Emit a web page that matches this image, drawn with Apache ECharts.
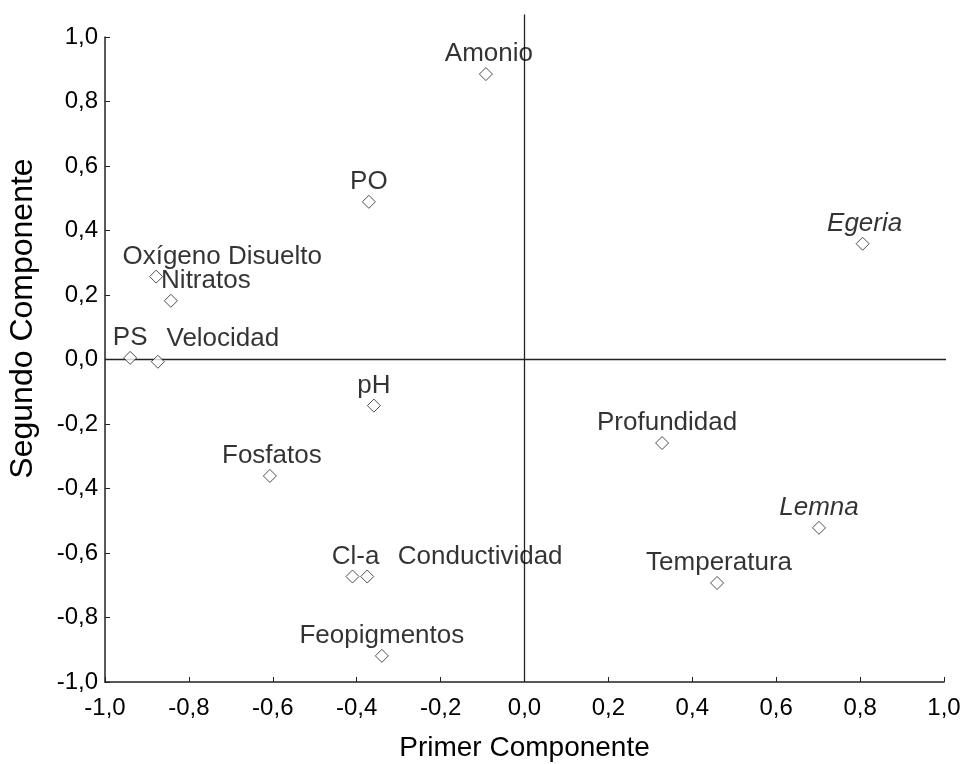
<!DOCTYPE html>
<html>
<head>
<meta charset="UTF-8">
<title>Componentes principales</title>
<script src="https://cdn.jsdelivr.net/npm/echarts@6.0.0/dist/echarts.min.js"></script>
<style type="text/css">
body{margin:0;padding:0;background:#fff;}
#main{width:970px;height:764px;}
</style>
</head>
<body>
<div id="main"></div>
<script type="text/javascript">
// variables y sus cargas en los dos primeros componentes
var variables = ['Amonio', 'PO', 'Egeria', 'Oxígeno Disuelto', 'Nitratos', 'PS', 'Velocidad', 'pH',
  'Profundidad', 'Fosfatos', 'Lemna', 'Temperatura', 'Cl-a', 'Conductividad', 'Feopigmentos'];
var primer = [-0.092, -0.371, 0.806, -0.878, -0.843, -0.940, -0.874, -0.359,
  0.328, -0.607, 0.702, 0.459, -0.410, -0.375, -0.340];
var segundo = [0.885, 0.489, 0.359, 0.257, 0.182, 0.005, -0.007, -0.143,
  -0.259, -0.361, -0.522, -0.693, -0.673, -0.673, -0.919];
var cursiva = ['Egeria', 'Lemna'];
// ejes de referencia en cero
var ejeVertical = [[0, -1], [0, 1.07]];
var ejeHorizontal = [[-1, 0], [1.1, 0]];

// desplazamiento de etiquetas (px)
var desplaza = {
  'Oxígeno Disuelto': [66, 0],
  'Nitratos': [35, 0],
  'Velocidad': [65, -3],
  'Conductividad': [113, 0],
  'Cl-a': [3, 0],
  'Amonio': [3, 0],
  'Egeria': [2, 0],
  'Fosfatos': [2, 0],
  'Temperatura': [2, 0],
  'Profundidad': [5, 0]
};

var font = 'Liberation Sans, Arial, sans-serif';
var ink = '#000';

var puntos = variables.map(function (v, i) {
  return {
    name: v,
    value: [primer[i], segundo[i]],
    label: {
      offset: desplaza[v] || [0, 0],
      fontStyle: cursiva.indexOf(v) >= 0 ? 'italic' : 'normal'
    }
  };
});

function coma(v) {
  return v.toFixed(1).replace('.', ',');
}

var myChart = echarts.init(document.getElementById('main'));
myChart.setOption({
  animation: false,
  grid: { left: 105, right: 26, top: 37, bottom: 82, outerBoundsMode: 'none' },
  xAxis: {
    type: 'value',
    min: -1, max: 1, interval: 0.2,
    name: 'Primer Componente',
    nameLocation: 'middle',
    nameGap: 52,
    nameTextStyle: { fontFamily: font, fontSize: 28, color: ink },
    axisLine: { onZero: false, lineStyle: { color: '#222', width: 1.5 } },
    axisTick: { inside: true, length: 5, lineStyle: { color: '#222' } },
    axisLabel: { formatter: coma, fontFamily: font, fontSize: 24, color: ink, margin: 14 },
    splitLine: { show: false }
  },
  yAxis: {
    type: 'value',
    min: -1, max: 1, interval: 0.2,
    name: 'Segundo Componente',
    nameLocation: 'middle',
    nameGap: 66,
    nameTextStyle: { fontFamily: font, fontSize: 32, color: ink, padding: [0, 0, 0, 82] },
    axisLine: { onZero: false, lineStyle: { color: '#222', width: 1.5 } },
    axisTick: { inside: true, length: 5, lineStyle: { color: '#222' } },
    axisLabel: { formatter: coma, fontFamily: font, fontSize: 24, color: ink, margin: 7 },
    splitLine: { show: false }
  },
  series: [
    {
      type: 'line', data: ejeVertical, symbol: 'none', clip: false, silent: true, z: 1,
      lineStyle: { color: '#222', width: 1.3 }
    },
    {
      type: 'line', data: ejeHorizontal, symbol: 'none', clip: false, silent: true, z: 1,
      lineStyle: { color: '#222', width: 1.3 }
    },
    {
      type: 'scatter',
      z: 3,
      symbol: 'diamond',
      symbolSize: 13,
      itemStyle: { color: '#fff', borderColor: '#222', borderWidth: 1 },
      label: {
        show: true,
        position: 'top',
        distance: 0,
        formatter: '{b}',
        fontFamily: font,
        fontSize: 26,
        color: ink
      },
      data: puntos
    }
  ]
});
</script>
</body>
</html>
